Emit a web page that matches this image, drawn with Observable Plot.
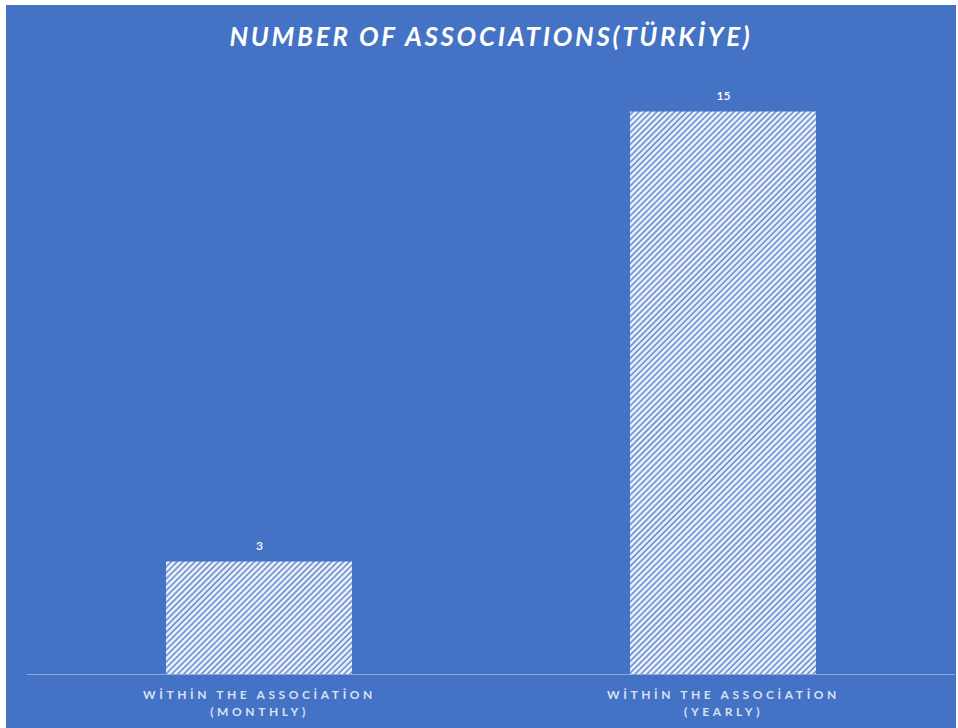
<!DOCTYPE html>
<html>
<head>
<meta charset="utf-8">
<script src="https://cdn.jsdelivr.net/npm/d3@7"></script>
<script src="https://cdn.jsdelivr.net/npm/@observablehq/plot@0.6"></script>
<style>
  html, body { margin: 0; padding: 0; background: #ffffff; }
  #wrap { position: absolute; left: 6px; top: 5px; width: 950px; height: 723px; background: #4472C4; overflow: hidden; }
  #title { height: 58px; line-height: 62px; text-align: center; padding-left: 20px; color: #ffffff; font-family: Lato, "Open Sans", sans-serif; font-weight: 700; font-style: italic; font-size: 26px; letter-spacing: 2.7px; }
</style>
</head>
<body>
<div id="wrap">
  <div id="title">NUMBER OF ASSOCIATIONS(TÜRKİYE)</div>
  <div id="chart"></div>
</div>
<script>
const categories = ["MONTHLY", "YEARLY"];
const labelLine1 = ["WİTHİN THE ASSOCİATİON", "WİTHİN THE ASSOCİATİON"];
const labelLine2 = ["(MONTHLY)", "(YEARLY)"];
const values = [3, 15];

const data = categories.map((c, i) => ({cat: c, value: values[i]}));

const chart = Plot.plot({
  width: 950,
  height: 665,
  marginLeft: 21,
  marginRight: 1,
  marginTop: 11,
  marginBottom: 54,
  style: {background: "transparent", color: "#ffffff", fontFamily: "Lato, 'Open Sans', sans-serif"},
  x: {domain: categories, paddingInner: 0.6, paddingOuter: 0.3, label: null},
  y: {domain: [0, 16], axis: null},
  marks: [
    Plot.barY(data, {x: "cat", y: "value", fill: "url(#hatch)"}),
    Plot.ruleY([0], {stroke: "#8EA9DB", strokeWidth: 1}),
    Plot.text(data, {x: "cat", y: "value", text: d => String(d.value), dy: -16, fill: "#ffffff", fontSize: 12, fontWeight: 600}),
    Plot.axisX({tickSize: 0, tickPadding: 12, fontSize: 12, lineHeight: 1.45, fill: "#D9E1F2",
      tickFormat: c => { const i = categories.indexOf(c); return labelLine1[i] + "\n" + labelLine2[i]; }})
  ]
});

// hatch pattern
const ns = "http://www.w3.org/2000/svg";
const defs = document.createElementNS(ns, "defs");
const pat = document.createElementNS(ns, "pattern");
pat.setAttribute("id", "hatch");
pat.setAttribute("patternUnits", "userSpaceOnUse");
pat.setAttribute("width", "4.2");
pat.setAttribute("height", "4.2");
pat.setAttribute("patternTransform", "rotate(45)");
const bg = document.createElementNS(ns, "rect");
bg.setAttribute("width", "4.2"); bg.setAttribute("height", "4.2"); bg.setAttribute("fill", "#7596D6");
const ln = document.createElementNS(ns, "rect");
ln.setAttribute("width", "2.4"); ln.setAttribute("height", "4.2"); ln.setAttribute("fill", "#EEF2FA");
pat.appendChild(bg); pat.appendChild(ln);
defs.appendChild(pat);
chart.insertBefore(defs, chart.firstChild);

chart.querySelectorAll('[aria-label="x-axis tick label"] text').forEach(t => {
  t.style.letterSpacing = "3.6px";
  t.style.fontWeight = "700";
});

document.getElementById("chart").appendChild(chart);
</script>
</body>
</html>
